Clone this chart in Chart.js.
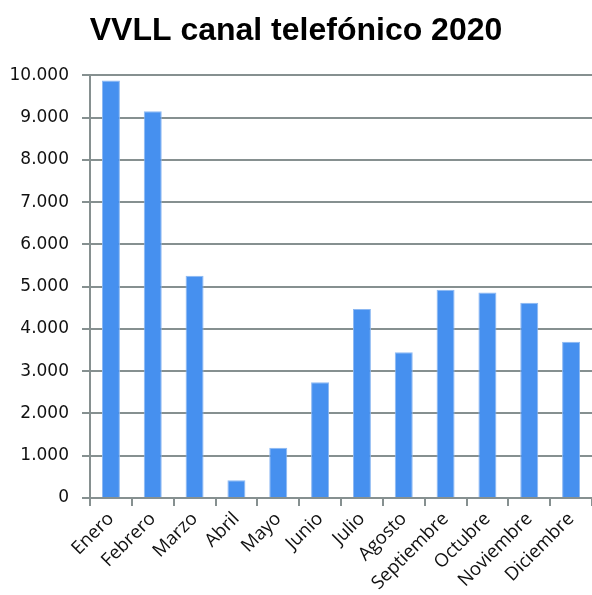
<!DOCTYPE html>
<html>
<head>
<meta charset="utf-8">
<script src="https://cdn.jsdelivr.net/npm/chart.js@4"></script>
<style>
  html, body { margin: 0; padding: 0; background: #fff; }
  #wrap { width: 592px; height: 595px; }
</style>
</head>
<body>
<div id="wrap"><canvas id="grafico"></canvas></div>
<script>
const meses = ["Enero", "Febrero", "Marzo", "Abril", "Mayo", "Junio", "Julio",
               "Agosto", "Septiembre", "Octubre", "Noviembre", "Diciembre"];
const llamadas = [9880, 9150, 5260, 420, 1190, 2740, 4470, 3450, 4930, 4860, 4620, 3700];
const yTicks = ["0", "1.000", "2.000", "3.000", "4.000", "5.000",
                "6.000", "7.000", "8.000", "9.000", "10.000"];

document.addEventListener('DOMContentLoaded', function () {
    const ctx = document.getElementById('grafico').getContext('2d');

    new Chart(ctx, {
        type: 'bar',
        data: {
            labels: meses,
            datasets: [{
                label: 'VVLL',
                data: llamadas,
                backgroundColor: '#4690ef',
                borderColor: '#8cb8f2',
                borderWidth: 1,
                barPercentage: 0.86,
                categoryPercentage: 0.5
            }]
        },
        options: {
            responsive: true,
            maintainAspectRatio: false,
            animation: false,
            layout: {
                padding: { left: 0, right: 0, top: 0, bottom: 0 }
            },
            scales: {
                y: {
                    min: 0,
                    max: 10000,
                    ticks: {
                        stepSize: 1000,
                        padding: 13,
                        color: '#111',
                        font: { family: 'DejaVu Sans', size: 17 },
                        callback: function (v) { return yTicks[Math.round(v / 1000)]; }
                    },
                    grid: {
                        color: '#869090',
                        lineWidth: 2,
                        tickLength: 8
                    },
                    border: { color: '#869090', width: 2 },
                    afterFit: function (s) { s.width = 90; }
                },
                x: {
                    ticks: {
                        maxRotation: 45,
                        minRotation: 45,
                        padding: 2,
                        color: '#111',
                        font: { family: 'Open Sans', size: 18.5 }
                    },
                    grid: {
                        drawOnChartArea: false,
                        offset: true,
                        color: '#869090',
                        lineWidth: 2,
                        tickLength: 8
                    },
                    border: { color: '#869090', width: 2 },
                    afterFit: function (s) { s.height = 97; }
                }
            },
            plugins: {
                legend: { display: false },
                tooltip: { enabled: false },
                title: {
                    display: true,
                    text: 'VVLL canal telefónico 2020',
                    color: '#000',
                    font: { family: 'Liberation Sans', size: 32, weight: 'bold' },
                    padding: { top: 12, bottom: 25 }
                }
            }
        }
    });
});
</script>
</body>
</html>
